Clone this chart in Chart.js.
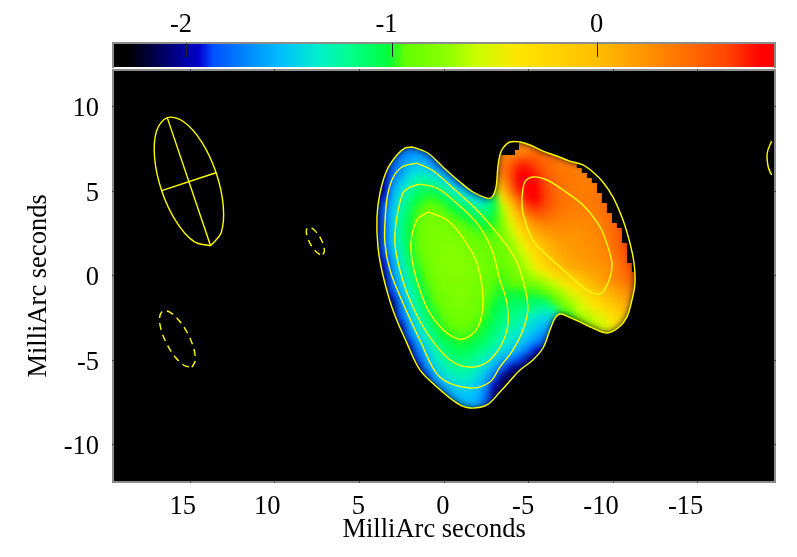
<!DOCTYPE html>
<html><head><meta charset="utf-8">
<style>html,body{margin:0;padding:0;background:#fff}canvas{position:absolute;left:0;top:0}</style>
<script src="https://cdn.jsdelivr.net/npm/chart.js@4"></script></head>
<body><canvas id="main" width="797" height="557"></canvas><canvas id="bar" width="797" height="71"></canvas>
<script>
const xTicks=[15,10,5,0,-5,-10,-15];
const yTicks=[10,5,0,-5,-10];
const barTicks=[-2,-1,0];
const axisTitle='MilliArc seconds';
const barRange=[-2.35,0.86];
const rampValues=[-2.35,-2.28,-1.94,-1.9,-1.87,-1.54,-1.35,-1.2,-1.02,-0.93,-0.73,-0.59,-0.39,0,0.33,0.63,0.8,0.86];
const rampColors=[[0,0,0],[0,0,0],[0,0,200],[0,40,235],[0,80,255],[0,190,255],[0,240,200],[0,255,140],[0,255,60],[100,255,0],[140,255,0],[200,255,0],[255,230,0],[255,190,0],[255,130,0],[255,70,0],[255,0,0],[255,0,0]];
const contourOuter=[[1.81,7.59],[0.93,7.24],[0.04,6.41],[-0.97,5.52],[-1.74,4.93],[-2.56,4.57],[-2.86,4.63],[-3.10,5.22],[-3.21,6.41],[-3.33,7.12],[-3.51,7.53],[-3.92,7.89],[-4.52,7.89],[-5.11,7.71],[-5.88,7.35],[-6.70,7.06],[-7.47,6.76],[-8.24,6.53],[-8.83,6.11],[-9.42,5.52],[-10.02,4.63],[-10.61,3.27],[-11.02,1.91],[-11.26,0.73],[-11.32,-0.46],[-11.14,-1.46],[-10.84,-2.47],[-10.31,-3.12],[-9.66,-3.41],[-8.83,-3.12],[-8.06,-2.76],[-7.29,-2.41],[-6.88,-2.29],[-6.59,-2.53],[-6.29,-3.24],[-5.88,-4.30],[-5.28,-5.01],[-4.52,-5.60],[-3.92,-6.25],[-3.33,-6.91],[-2.56,-7.67],[-1.56,-7.85],[-0.79,-7.56],[0.39,-6.61],[1.40,-5.60],[2.17,-4.01],[3.00,-2.05],[3.59,0.02],[3.88,1.67],[3.94,3.45],[3.76,4.87],[3.35,6.23],[2.76,7.12],[2.29,7.53],[1.81,7.59]];
const contourSecond=[[1.58,6.64],[0.69,6.23],[-0.55,5.17],[-1.97,3.86],[-3.16,2.50],[-3.92,1.50],[-4.52,0.31],[-4.99,-1.88],[-4.69,-3.24],[-4.10,-4.42],[-3.33,-5.43],[-2.74,-6.31],[-1.56,-6.67],[0.22,-6.02],[1.40,-3.83],[2.40,-1.64],[3.17,0.31],[3.47,1.91],[3.44,3.57],[3.31,4.75],[3.00,5.76],[2.46,6.41],[1.58,6.64]];
const contourThird=[[1.40,5.40],[0.39,5.16],[-0.55,4.46],[-1.97,3.09],[-2.86,1.50],[-3.33,-0.28],[-3.75,-1.64],[-3.75,-3.24],[-2.92,-4.83],[-1.74,-5.43],[-0.38,-5.01],[0.98,-3.41],[1.99,-1.46],[2.58,0.31],[2.88,1.91],[2.76,3.45],[2.40,4.87],[1.99,5.21],[1.40,5.40]];
const contourInner=[[0.93,3.75],[-0.20,3.27],[-1.14,2.21],[-1.97,0.73],[-2.33,-1.46],[-2.03,-3.06],[-1.14,-3.77],[-0.20,-3.41],[0.81,-2.23],[1.40,-0.87],[1.81,0.61],[1.93,1.91],[1.58,3.27],[0.93,3.75]];
const contourRight=[[-4.63,4.63],[-4.81,5.52],[-5.28,5.82],[-6.11,5.64],[-7.06,5.05],[-8.24,4.16],[-9.25,2.86],[-9.72,1.67],[-9.96,0.61],[-9.72,-0.46],[-9.25,-1.11],[-8.48,-0.87],[-7.29,0.14],[-6.29,1.02],[-5.28,2.09],[-4.69,3.69],[-4.63,4.63]];
const contourArc=[[-19.40,7.95],[-19.14,7.24],[-19.20,6.41],[-19.40,5.93]];
const beamOutline=[[13.78,1.75],[13.15,2.53],[13.03,4.11],[13.45,6.07],[14.31,7.90],[15.37,9.09],[16.34,9.33],[16.97,8.55],[17.09,6.97],[16.67,5.01],[15.81,3.18],[14.75,1.99],[13.78,1.75]];
const beamMajor=[[16.34,9.33],[13.78,1.75]];
const beamMinor=[[16.67,5.01],[13.46,6.07]];
const dashedSmall=[[7.14,1.23],[7.05,1.42],[7.10,1.77],[7.28,2.20],[7.54,2.57],[7.82,2.81],[8.02,2.83],[8.12,2.64],[8.06,2.29],[7.88,1.86],[7.62,1.49],[7.35,1.25],[7.14,1.23]];
const dashedLarge=[[14.88,-5.43],[14.69,-5.06],[14.77,-4.34],[15.12,-3.47],[15.63,-2.69],[16.17,-2.19],[16.60,-2.11],[16.79,-2.48],[16.71,-3.20],[16.36,-4.07],[15.85,-4.86],[15.31,-5.35],[14.88,-5.43]];
const blankEdgeRight=[[-7.47,6.76],[-7.88,6.64],[-7.88,6.35],[-8.18,6.35],[-8.18,6.05],[-8.48,6.05],[-8.48,5.76],[-8.77,5.76],[-8.77,5.47],[-9.07,5.47],[-9.07,4.87],[-9.36,4.87],[-9.36,4.28],[-9.66,4.28],[-9.66,3.69],[-9.96,3.69],[-9.96,3.09],[-10.25,3.09],[-10.25,2.80],[-10.55,2.80],[-10.55,1.91],[-10.85,1.91],[-10.85,0.73],[-11.14,0.73],[-11.14,0.2],[-11.61,0.2],[-11.61,7.41],[-7.47,7.41],[-7.47,6.76]];
const blankEdgeTop=[[-3.21,7.12],[-4.22,7.12],[-4.22,7.41],[-4.46,7.41],[-4.46,7.83],[-4.46,8.3],[-3.21,8.3],[-3.21,7.12]];
const cellStep=0.5;
const cellRowY=[8,7.5,7,6.5,6,5.5,5,4.5,4,3.5,3,2.5,2,1.5,1,0.5,0,-0.5,-1,-1.5,-2,-2.5,-3,-3.5,-4,-4.5,-5,-5.5,-6,-6.5,-7,-7.5,-8];
const cellRowStartX=[3,3,3,3.5,3.5,4,4,4,4,4,4,4,4,4,4,4,4,4,3.5,3.5,3.5,3.5,3,3,2.5,2.5,2,2,1.5,1,0.5,0,-0.5];
const cellRows=[
[-1.8,-1.8,-1.78,-1.78,-1.8,null,null,null,null,null,null,null,null,0.3,0.3,0.3,0.35,0.4],
[-1.8,-1.78,-1.75,-1.72,-1.75,-1.8,-1.85,null,null,null,null,null,null,0.3,0.3,0.3,0.3,0.4,0.42,0.4,0.4],
[-1.8,-1.72,-1.65,-1.62,-1.68,-1.8,-1.85,null,null,null,null,null,0.3,0.3,0.35,0.45,0.5,0.5,0.45,0.42,0.4,0.4],
[-1.85,-1.8,-1.68,-1.55,-1.5,-1.55,-1.72,-1.85,-1.9,null,null,null,-0.1,0,0.4,0.55,0.72,0.72,0.6,0.5,0.42,0.38,0.36,0.35,0.35],
[-1.95,-1.82,-1.65,-1.45,-1.38,-1.38,-1.45,-1.62,-1.85,-1.9,null,null,-0.3,-0.1,0.35,0.6,0.8,0.82,0.7,0.55,0.45,0.4,0.38,0.36,0.36,0.36],
[-2,-1.95,-1.7,-1.5,-1.35,-1.22,-1.22,-1.25,-1.38,-1.55,-1.85,-1.9,null,-0.8,-0.35,0.2,0.55,0.8,0.85,0.78,0.6,0.48,0.42,0.38,0.36,0.36,0.37,0.38],
[-2.05,-1.95,-1.6,-1.42,-1.25,-1.13,-1.08,-1.1,-1.18,-1.3,-1.42,-1.62,-1.8,-1.6,-0.6,0,0.4,0.72,0.85,0.85,0.65,0.5,0.42,0.38,0.36,0.36,0.38,0.4,0.42],
[-2.1,-1.9,-1.55,-1.32,-1.16,-1.05,-0.98,-0.98,-1.05,-1.15,-1.25,-1.35,-1.45,-1.48,-1.05,-0.4,0.1,0.5,0.78,0.8,0.65,0.5,0.42,0.38,0.36,0.36,0.38,0.42,0.45,0.45],
[-2.1,-1.82,-1.5,-1.27,-1.1,-0.98,-0.92,-0.9,-0.96,-1.03,-1.1,-1.15,-1.22,-1.2,-1.05,-0.62,-0.2,0.25,0.6,0.68,0.6,0.48,0.4,0.37,0.35,0.35,0.37,0.42,0.47,0.5],
[-2.1,-1.82,-1.48,-1.22,-1.06,-0.95,-0.88,-0.86,-0.9,-0.95,-1,-1.05,-1.1,-1.12,-1,-0.72,-0.38,0.02,0.35,0.48,0.48,0.4,0.36,0.33,0.32,0.33,0.35,0.4,0.48,0.5,0.5],
[-2.1,-1.82,-1.47,-1.2,-1.03,-0.93,-0.87,-0.83,-0.85,-0.88,-0.93,-0.97,-1,-1.02,-0.98,-0.78,-0.52,-0.2,0.1,0.27,0.33,0.32,0.3,0.29,0.28,0.3,0.32,0.37,0.45,0.52,0.55],
[-2.08,-1.82,-1.47,-1.2,-1.02,-0.92,-0.86,-0.82,-0.82,-0.84,-0.88,-0.92,-0.95,-0.97,-0.95,-0.82,-0.62,-0.38,-0.1,0.1,0.2,0.24,0.25,0.25,0.26,0.27,0.3,0.35,0.45,0.55,0.58],
[-2.05,-1.82,-1.48,-1.22,-1.03,-0.92,-0.86,-0.82,-0.8,-0.8,-0.83,-0.87,-0.9,-0.93,-0.93,-0.85,-0.7,-0.5,-0.27,-0.08,0.06,0.15,0.2,0.22,0.24,0.26,0.28,0.33,0.42,0.55,0.62,0.65],
[-2,-1.85,-1.52,-1.25,-1.05,-0.93,-0.87,-0.82,-0.79,-0.78,-0.8,-0.83,-0.87,-0.9,-0.92,-0.88,-0.76,-0.6,-0.42,-0.22,-0.05,0.08,0.15,0.2,0.22,0.24,0.26,0.31,0.38,0.52,0.62,0.65],
[-2,-1.9,-1.58,-1.3,-1.08,-0.95,-0.88,-0.82,-0.79,-0.77,-0.78,-0.81,-0.85,-0.89,-0.92,-0.9,-0.82,-0.68,-0.52,-0.33,-0.15,0,0.1,0.16,0.2,0.22,0.24,0.28,0.34,0.47,0.6,0.62],
[-2,-1.92,-1.65,-1.36,-1.13,-0.98,-0.9,-0.83,-0.79,-0.77,-0.77,-0.8,-0.84,-0.88,-0.92,-0.92,-0.86,-0.75,-0.6,-0.43,-0.25,-0.1,0.02,0.1,0.15,0.18,0.2,0.24,0.3,0.42,0.55,0.6],
[-2.05,-2,-1.7,-1.42,-1.2,-1.03,-0.92,-0.85,-0.8,-0.78,-0.78,-0.8,-0.84,-0.88,-0.93,-0.95,-0.91,-0.82,-0.72,-0.6,-0.48,-0.35,-0.2,-0.08,0,0.08,0.15,0.22,0.3,0.4,0.48,0.5],
[-2.1,-2.05,-1.78,-1.48,-1.25,-1.07,-0.95,-0.87,-0.82,-0.79,-0.79,-0.81,-0.85,-0.89,-0.95,-0.97,-0.93,-0.9,-0.85,-0.8,-0.7,-0.6,-0.45,-0.33,-0.22,-0.08,0.05,0.13,0.22,0.32,0.4,0.42],
[-2.1,-1.88,-1.55,-1.32,-1.12,-0.98,-0.9,-0.84,-0.81,-0.8,-0.82,-0.86,-0.91,-0.97,-1,-1,-1,-0.97,-0.97,-0.92,-0.8,-0.65,-0.5,-0.4,-0.25,-0.1,0,0.1,0.2,0.27,0.3],
[-2.1,-2,-1.65,-1.38,-1.17,-1.03,-0.93,-0.87,-0.83,-0.82,-0.84,-0.88,-0.93,-1,-1.05,-1.08,-1.08,-1.08,-1.1,-1.1,-0.95,-0.8,-0.65,-0.55,-0.42,-0.3,-0.15,-0.03,0.07,0.15,0.2],
[-2.1,-2.1,-1.75,-1.45,-1.23,-1.07,-0.97,-0.9,-0.86,-0.84,-0.86,-0.9,-0.96,-1.03,-1.1,-1.13,-1.15,-1.18,-1.22,-1.27,-1.2,-0.95,-0.78,-0.6,-0.5,-0.42,-0.3,-0.15,-0.02,0.08,0.1],
[-2.1,-2,-1.85,-1.52,-1.3,-1.13,-1,-0.94,-0.89,-0.87,-0.88,-0.92,-0.98,-1.06,-1.15,-1.18,-1.22,-1.3,-1.38,-1.45,-1.4,-1.2,-1,-0.75,-0.65,-0.55,-0.47,-0.35,-0.2,-0.05,0.05],
[-2.1,-1.95,-1.62,-1.38,-1.2,-1.05,-0.97,-0.92,-0.9,-0.92,-0.96,-1.02,-1.1,-1.2,-1.25,-1.3,-1.4,-1.48,-1.55,-1.6,null,null,-0.8,-0.72,-0.62,-0.52,-0.42,-0.3,-0.2],
[-2.1,-2.05,-1.75,-1.47,-1.28,-1.12,-1.02,-0.97,-0.95,-0.96,-1,-1.07,-1.16,-1.27,-1.33,-1.38,-1.48,-1.58,-1.7,-1.8,null,null,null,-0.7,-0.62,-0.52,-0.43,-0.3],
[-2.1,-1.9,-1.6,-1.38,-1.2,-1.1,-1.03,-1,-1.02,-1.07,-1.13,-1.22,-1.33,-1.4,-1.5,-1.6,-1.72,-1.85,-1.95],
[-2.1,-2.05,-1.75,-1.5,-1.3,-1.17,-1.1,-1.07,-1.08,-1.15,-1.22,-1.32,-1.43,-1.52,-1.63,-1.78,-1.95,-2.1],
[-2.1,-1.88,-1.6,-1.38,-1.25,-1.18,-1.15,-1.17,-1.25,-1.35,-1.48,-1.6,-1.72,-1.88,-2.05,-2.15],
[-2.1,-2,-1.72,-1.48,-1.33,-1.25,-1.22,-1.24,-1.33,-1.45,-1.62,-1.82,-2,-2.1,-2.2],
[-2.05,-1.9,-1.6,-1.45,-1.35,-1.3,-1.33,-1.42,-1.55,-1.78,-2.05,-2.15],
[-2,-1.78,-1.6,-1.48,-1.42,-1.43,-1.5,-1.65,-1.95,-2.15],
[-1.9,-1.75,-1.6,-1.52,-1.5,-1.55,-1.75,-2.05,-2.2],
[-1.85,-1.72,-1.6,-1.55,-1.6,-1.8,-2.1],
[-1.75,-1.65,-1.6,-1.65,-1.8,-2]
];
const xRange=[-19.54,19.49];
const yRange=[-12.17,12.09];
const fontFamily="'Liberation Serif','Times New Roman',serif";
const fontSize=26.5;
const yellow='#ffff00';

function rampColor(v){
  if(v<=rampValues[0])return 'rgb(0,0,0)';
  for(let i=1;i<rampValues.length;i++){
    if(v<=rampValues[i]){
      const t=(v-rampValues[i-1])/(rampValues[i]-rampValues[i-1]);
      const a=rampColors[i-1],b=rampColors[i];
      return `rgb(${a.map((c,k)=>Math.round(c+(b[k]-c)*t)).join(',')})`;
    }
  }
  return 'rgb(255,0,0)';
}
const pts=a=>a.map(p=>({x:p[0],y:p[1]}));
const cells=[];
cellRows.forEach((row,r)=>row.forEach((v,c)=>{
  if(v!==null)cells.push({x:cellRowStartX[r]-c*cellStep,y:cellRowY[r],v});
}));
const line=(d,o)=>Object.assign({data:pts(d),showLine:true,pointRadius:0,borderColor:yellow,borderWidth:1.4,tension:0.35,fill:false,order:1},o||{});
const blank=d=>line(d,{tension:0,borderWidth:0,borderColor:'#000',backgroundColor:'#000',fill:'shape',order:5});

const frame={id:'frame',
  beforeDatasetsDraw(chart){
    const a=chart.chartArea,c=chart.ctx;
    c.save();c.fillStyle='#000';c.fillRect(a.left,a.top,a.width,a.height);c.restore();
  },
  beforeDatasetDraw(chart,args){
    if(args.index!==0)return;
    const l=chart.getDatasetMeta(1).dataset,c=chart.ctx;
    l.updateControlPoints(chart.chartArea);
    c.save();c.beginPath();l.path(c);c.closePath();c.clip();
  },
  afterDatasetDraw(chart,args){
    if(args.index!==0)return;
    const c=chart.ctx;
    c.filter='blur(3.5px)';
    c.drawImage(c.canvas,0,0);
    c.filter='none';
    c.restore();
  },
  afterDatasetsDraw(chart){
    const a=chart.chartArea,c=chart.ctx,{x,y}=chart.scales;
    c.save();
    c.strokeStyle='#8c8c8c';c.lineWidth=2;
    c.strokeRect(a.left-1,a.top-1,a.width+2,a.height+2);
    c.strokeStyle='#444';c.lineWidth=1;
    c.beginPath();
    x.ticks.forEach(t=>{const p=Math.round(x.getPixelForValue(t.value))+.5;
      c.moveTo(p,a.top-2);c.lineTo(p,a.top);c.moveTo(p,a.bottom);c.lineTo(p,a.bottom+2);});
    y.ticks.forEach(t=>{const p=Math.round(y.getPixelForValue(t.value))+.5;
      c.moveTo(a.left-2,p);c.lineTo(a.left,p);c.moveTo(a.right,p);c.lineTo(a.right+2,p);});
    c.stroke();c.restore();
  }
};

new Chart(document.getElementById('main'),{
  type:'scatter',
  plugins:[frame],
  data:{datasets:[
    {data:cells,order:10,pointStyle:'rect',borderWidth:0,
      pointRadius(ctx){const s=ctx.chart.scales.x;return (Math.abs(s.getPixelForValue(0)-s.getPixelForValue(cellStep))+.6)/Math.SQRT2;},
      pointBackgroundColor(ctx){return ctx.raw?rampColor(ctx.raw.v):'#000';},
      pointBorderWidth:0},
    line(contourOuter),line(contourSecond),line(contourThird),line(contourInner),line(contourRight),line(contourArc),
    line(beamOutline),line(beamMajor,{tension:0}),line(beamMinor,{tension:0}),
    line(dashedSmall,{borderDash:[7,5]}),line(dashedLarge,{borderDash:[7,5]}),
    blank(blankEdgeRight),blank(blankEdgeTop)
  ]},
  options:{responsive:false,animation:false,events:[],
    layout:{padding:{left:0,top:71,right:23,bottom:0}},
    plugins:{legend:{display:false},tooltip:{enabled:false}},
    scales:{
      x:{type:'linear',reverse:true,min:xRange[0],max:xRange[1],
        afterBuildTicks(s){s.ticks=xTicks.map(v=>({value:v}));},
        afterFit(s){s.height=76;},
        grid:{display:false,drawTicks:false},border:{display:false},
        ticks:{autoSkip:false,maxRotation:0,align:'end',labelOffset:6,padding:10,color:'#000',font:{family:fontFamily,size:fontSize},callback:v=>String(v)},
        title:{display:true,text:axisTitle+'\u00a0\u00a0\u00a0',color:'#000',font:{family:fontFamily,size:fontSize},padding:{top:0,bottom:11}}},
      y:{type:'linear',min:yRange[0],max:yRange[1],
        afterBuildTicks(s){s.ticks=yTicks.map(v=>({value:v}));},
        afterFit(s){s.width=114;},
        grid:{display:false,drawTicks:false},border:{display:false},
        ticks:{autoSkip:false,padding:15,labelOffset:3,color:'#000',font:{family:fontFamily,size:fontSize},callback:v=>String(v)},
        title:{display:true,text:axisTitle+'\u00a0\u00a0\u00a0',color:'#000',font:{family:fontFamily,size:fontSize},padding:{top:23,bottom:0}}}
    }}
});

const barFrame={id:'barFrame',afterDatasetsDraw(chart){
  const a=chart.chartArea,c=chart.ctx,x=chart.scales.x;
  c.save();
  c.strokeStyle='#8c8c8c';c.lineWidth=2;
  c.beginPath();c.moveTo(a.left-1,a.bottom+1);c.lineTo(a.left-1,a.top-1);c.lineTo(a.right+1,a.top-1);c.lineTo(a.right+1,a.bottom+1);c.stroke();
  c.strokeStyle='#222';c.lineWidth=1;c.beginPath();
  x.ticks.forEach(t=>{const p=Math.round(x.getPixelForValue(t.value))+.5;c.moveTo(p,a.top-1);c.lineTo(p,a.top+13);});
  c.stroke();c.restore();
}};
new Chart(document.getElementById('bar'),{
  type:'bar',
  plugins:[barFrame],
  data:{labels:[''],datasets:[{data:[barRange],barPercentage:1,categoryPercentage:1,borderWidth:0,
    backgroundColor(ctx){
      const ch=ctx.chart,s=ch.scales.x;
      if(!ch.chartArea||!s)return '#000';
      const g=ch.ctx.createLinearGradient(s.getPixelForValue(barRange[0]),0,s.getPixelForValue(barRange[1]),0);
      const w=barRange[1]-barRange[0];
      rampValues.forEach((v,i)=>g.addColorStop((v-barRange[0])/w,`rgb(${rampColors[i].join(',')})`));
      return g;
    }}]},
  options:{responsive:false,animation:false,events:[],indexAxis:'y',
    layout:{padding:{left:114,right:23,top:0,bottom:4}},
    plugins:{legend:{display:false},tooltip:{enabled:false}},
    scales:{
      y:{type:'category',display:false},
      x:{type:'linear',position:'top',min:barRange[0],max:barRange[1],
        afterBuildTicks(s){s.ticks=barTicks.map(v=>({value:v}));},
        afterFit(s){s.height=44;},
        grid:{display:false,drawTicks:false},border:{display:false},
        ticks:{autoSkip:false,maxRotation:0,align:'end',labelOffset:6,padding:3,color:'#000',font:{family:fontFamily,size:fontSize},callback:v=>String(v)}}
    }}
});
</script></body></html>
